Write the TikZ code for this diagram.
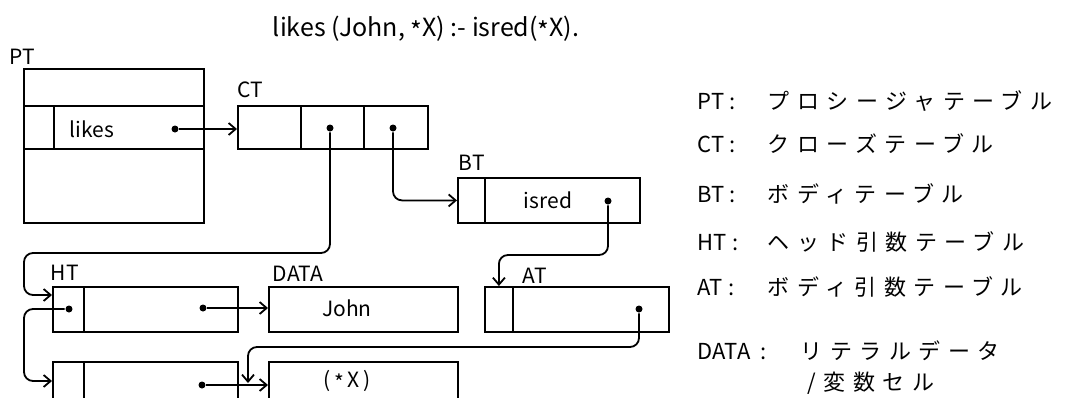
\documentclass[tikz,border=0pt]{standalone}
\usepackage{fontspec}
\setmainfont{Noto Sans CJK JP}
\usetikzlibrary{arrows.meta}
\newcommand{\lowstar}{\raisebox{-0.3ex}{*}}

\begin{document}
\begin{tikzpicture}[x=1pt, y=-1pt, line width=1.8pt,
    cell/.style={draw, anchor=north west, inner sep=0pt, minimum height=45pt},
    ptr/.style={circle, fill, inner sep=0pt, minimum size=7pt},
    tag/.style={anchor=base west, inner sep=0pt, font=\fontsize{21}{24}\selectfont},
    txt/.style={inner sep=0pt, font=\fontsize{21}{24}\selectfont},
    key/.style={anchor=base west, inner sep=0pt, font=\fontsize{22}{26}\selectfont},
    legend/.style={anchor=base west, inner sep=0pt, font=\fontsize{22}{26}\selectfont\addfontfeature{LetterSpace=34}},
    link/.style={-{Straight Barb[length=7pt,width=12pt]}, rounded corners=9pt}]
\useasboundingbox (0,0) rectangle (1076,397);
\clip (0,0) rectangle (1076,397);

\node[anchor=base west, inner sep=0pt, font=\fontsize{25}{28}\selectfont] (title) at (272,36) {likes (John, \lowstar X) :- isred(\lowstar X).};

% PT
\node[tag] (ptlab) at (9,64) {PT};
\node[cell, minimum width=180pt, minimum height=37pt] (pt1) at (23,68) {};
\node[cell, minimum width=30pt, minimum height=43pt] (pt2) at (23,105) {};
\node[cell, minimum width=150pt, minimum height=43pt] (pt3) at (53,105) {};
\node[cell, minimum width=180pt, minimum height=74pt] (pt4) at (23,148) {};
\node[txt] (likes) at (92,129) {likes};
\node[ptr] (ptdot) at (175,129) {};

% CT
\node[tag] (ctlab) at (237,97) {CT};
\node[cell, minimum width=63pt, minimum height=43pt] (ct1) at (237,105) {};
\node[cell, minimum width=63pt, minimum height=43pt] (ct2) at (300,105) {};
\node[cell, minimum width=64pt, minimum height=43pt] (ct3) at (363,105) {};
\node[ptr] (ctdot2) at (330,128) {};
\node[ptr] (ctdot3) at (393,128) {};

% BT
\node[tag] (btlab) at (458,170) {BT};
\node[cell, minimum width=27pt] (bt1) at (457,177) {};
\node[cell, minimum width=155pt] (bt2) at (484,177) {};
\node[txt] (isred) at (548,200) {isred};
\node[ptr] (btdot) at (608,201) {};

% HT
\node[tag] (htlab) at (50,280) {HT};
\node[cell, minimum width=31pt] (ht1) at (52,286) {};
\node[cell, minimum width=154pt] (ht2) at (83,286) {};
\node[cell, minimum width=31pt] (ht3) at (52,361) {};
\node[cell, minimum width=154pt] (ht4) at (83,361) {};
\node[ptr] (htdot1) at (69,309) {};
\node[ptr] (htdot2) at (203,308) {};
\node[ptr] (htdot3) at (202,385) {};
\coordinate (htin1) at ([yshift=-9pt]ht1.north west);
\coordinate (htin2) at ([yshift=-20pt]ht3.north west);

% DATA
\node[tag] (dtlab) at (272,281) {DATA};
\node[cell, minimum width=189pt] (dt1) at (268,286) {};
\node[cell, minimum width=189pt] (dt2) at (268,361) {};
\node[txt] (john) at (347,308) {John};
\node[txt] (varx) at (347,381) {(\,\lowstar\,X\,)};
\coordinate (xin) at (248,383);

% AT
\node[tag] (atlab) at (522,283) {AT};
\node[cell, minimum width=28pt] (at1) at (484,286) {};
\node[cell, minimum width=156pt] (at2) at (512,286) {};
\node[ptr] (atdot) at (639,309) {};

\draw[link] (ptdot) -- (ptdot -| ct1.west);
\draw[link] (ctdot3) |- (bt1.west);
\draw[link] (ctdot2) -- ++(0,125) -- ++(-306,0) |- (htin1);
\draw[link] (htdot1) -- ++(-45,0) |- (htin2);
\draw[link] (htdot2) -- (htdot2 -| dt1.west);
\draw[link] (htdot3) -- (htdot3 -| dt2.west);
\draw[link] (btdot) -- ++(0,54) -| (at1.north);
\draw[link] (atdot) -- ++(0,38) -| (xin);

% legend
\node[key] (kpt) at (697,109) {PT :};
\node[legend] (vpt) at (767,109) {プロシージャテーブル};
\node[key] (kct) at (697,152) {CT :};
\node[legend] (vct) at (767,152) {クローズテーブル};
\node[key] (kbt) at (697,202) {BT :};
\node[legend] (vbt) at (767,202) {ボディテーブル};
\node[key] (kht) at (697,250) {HT :};
\node[legend] (vht) at (767,250) {ヘッド引数テーブル};
\node[key] (kat) at (697,295) {AT :};
\node[legend] (vat) at (767,295) {ボディ引数テーブル};
\node[key] (kdt) at (697,359) {DATA\ \ :};
\node[legend] (vdt) at (800,359) {リテラルデータ};
\node[legend] (vdt2) at (807,390) {/変数セル};
\end{tikzpicture}
\end{document}
